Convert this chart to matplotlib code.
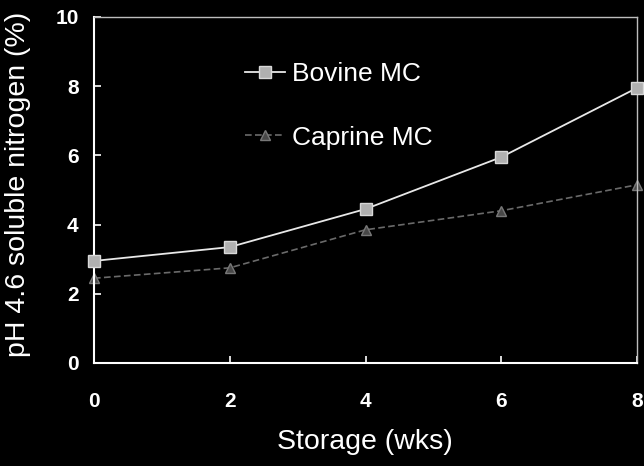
import matplotlib
matplotlib.use("Agg")
from matplotlib import pyplot as plt

# data
weeks = [0, 2, 4, 6, 8]
bovine = [2.95, 3.35, 4.45, 5.95, 7.95]
caprine = [2.45, 2.75, 3.85, 4.4, 5.15]
x_ticks = [0, 2, 4, 6, 8]
y_ticks = [0, 2, 4, 6, 8, 10]

plt.rcParams['font.family'] = ['Liberation Sans', 'DejaVu Sans']

fig = plt.figure(figsize=(6.44, 4.66), dpi=100, facecolor="black")
ax = fig.add_axes([94 / 644, 1 - 363 / 466, 543 / 644, 346 / 466], facecolor="black")

ax.plot(weeks, bovine, color="#e8e8e8", lw=1.3, marker="s", ms=8.5,
        mfc="#b0b0b0", mec="#d8d8d8", label="Bovine MC", zorder=3, clip_on=False)
ax.plot(weeks, caprine, color="#6a6a6a", lw=1.2, ls=(0, (4, 2)), marker="^", ms=7,
        mfc="#484848", mec="#787878", label="Caprine MC", zorder=2, clip_on=False)

ax.set_xlim(0, 8)
ax.set_ylim(0, 10)
ax.set_xticks(x_ticks)
ax.set_yticks(y_ticks)
ax.tick_params(direction="in", colors="white", length=5, width=1.2, labelsize=15)
ax.tick_params(axis="x", pad=21)
ax.tick_params(axis="y", pad=11)
for lab in ax.get_xticklabels() + ax.get_yticklabels():
    lab.set_fontweight("bold")

for side in ["left", "bottom"]:
    ax.spines[side].set_color("white")
    ax.spines[side].set_linewidth(1.5)
for side in ["top", "right"]:
    ax.spines[side].set_color("#bdbdbd")
    ax.spines[side].set_linewidth(1.0)
    ax.spines[side].set_linestyle((0, (3, 1)))

fig.text(365 / 644, 1 - 442 / 466, "Storage (wks)", color="white", fontsize=20.5,
         ha="center", va="center")
fig.text(18 / 644, 1 - 184 / 466, "pH 4.6 soluble nitrogen (%)", color="white",
         fontsize=20.5, rotation=90, ha="center", va="center")

leg = ax.legend(loc="upper left", bbox_to_anchor=(0.278, 0.87), frameon=False,
                borderpad=0, borderaxespad=0, labelspacing=1.5, handlelength=1.5,
                handletextpad=0.3, fontsize=19)
for t in leg.get_texts():
    t.set_color("white")

fig.savefig("out.png", dpi=100, facecolor="black")
